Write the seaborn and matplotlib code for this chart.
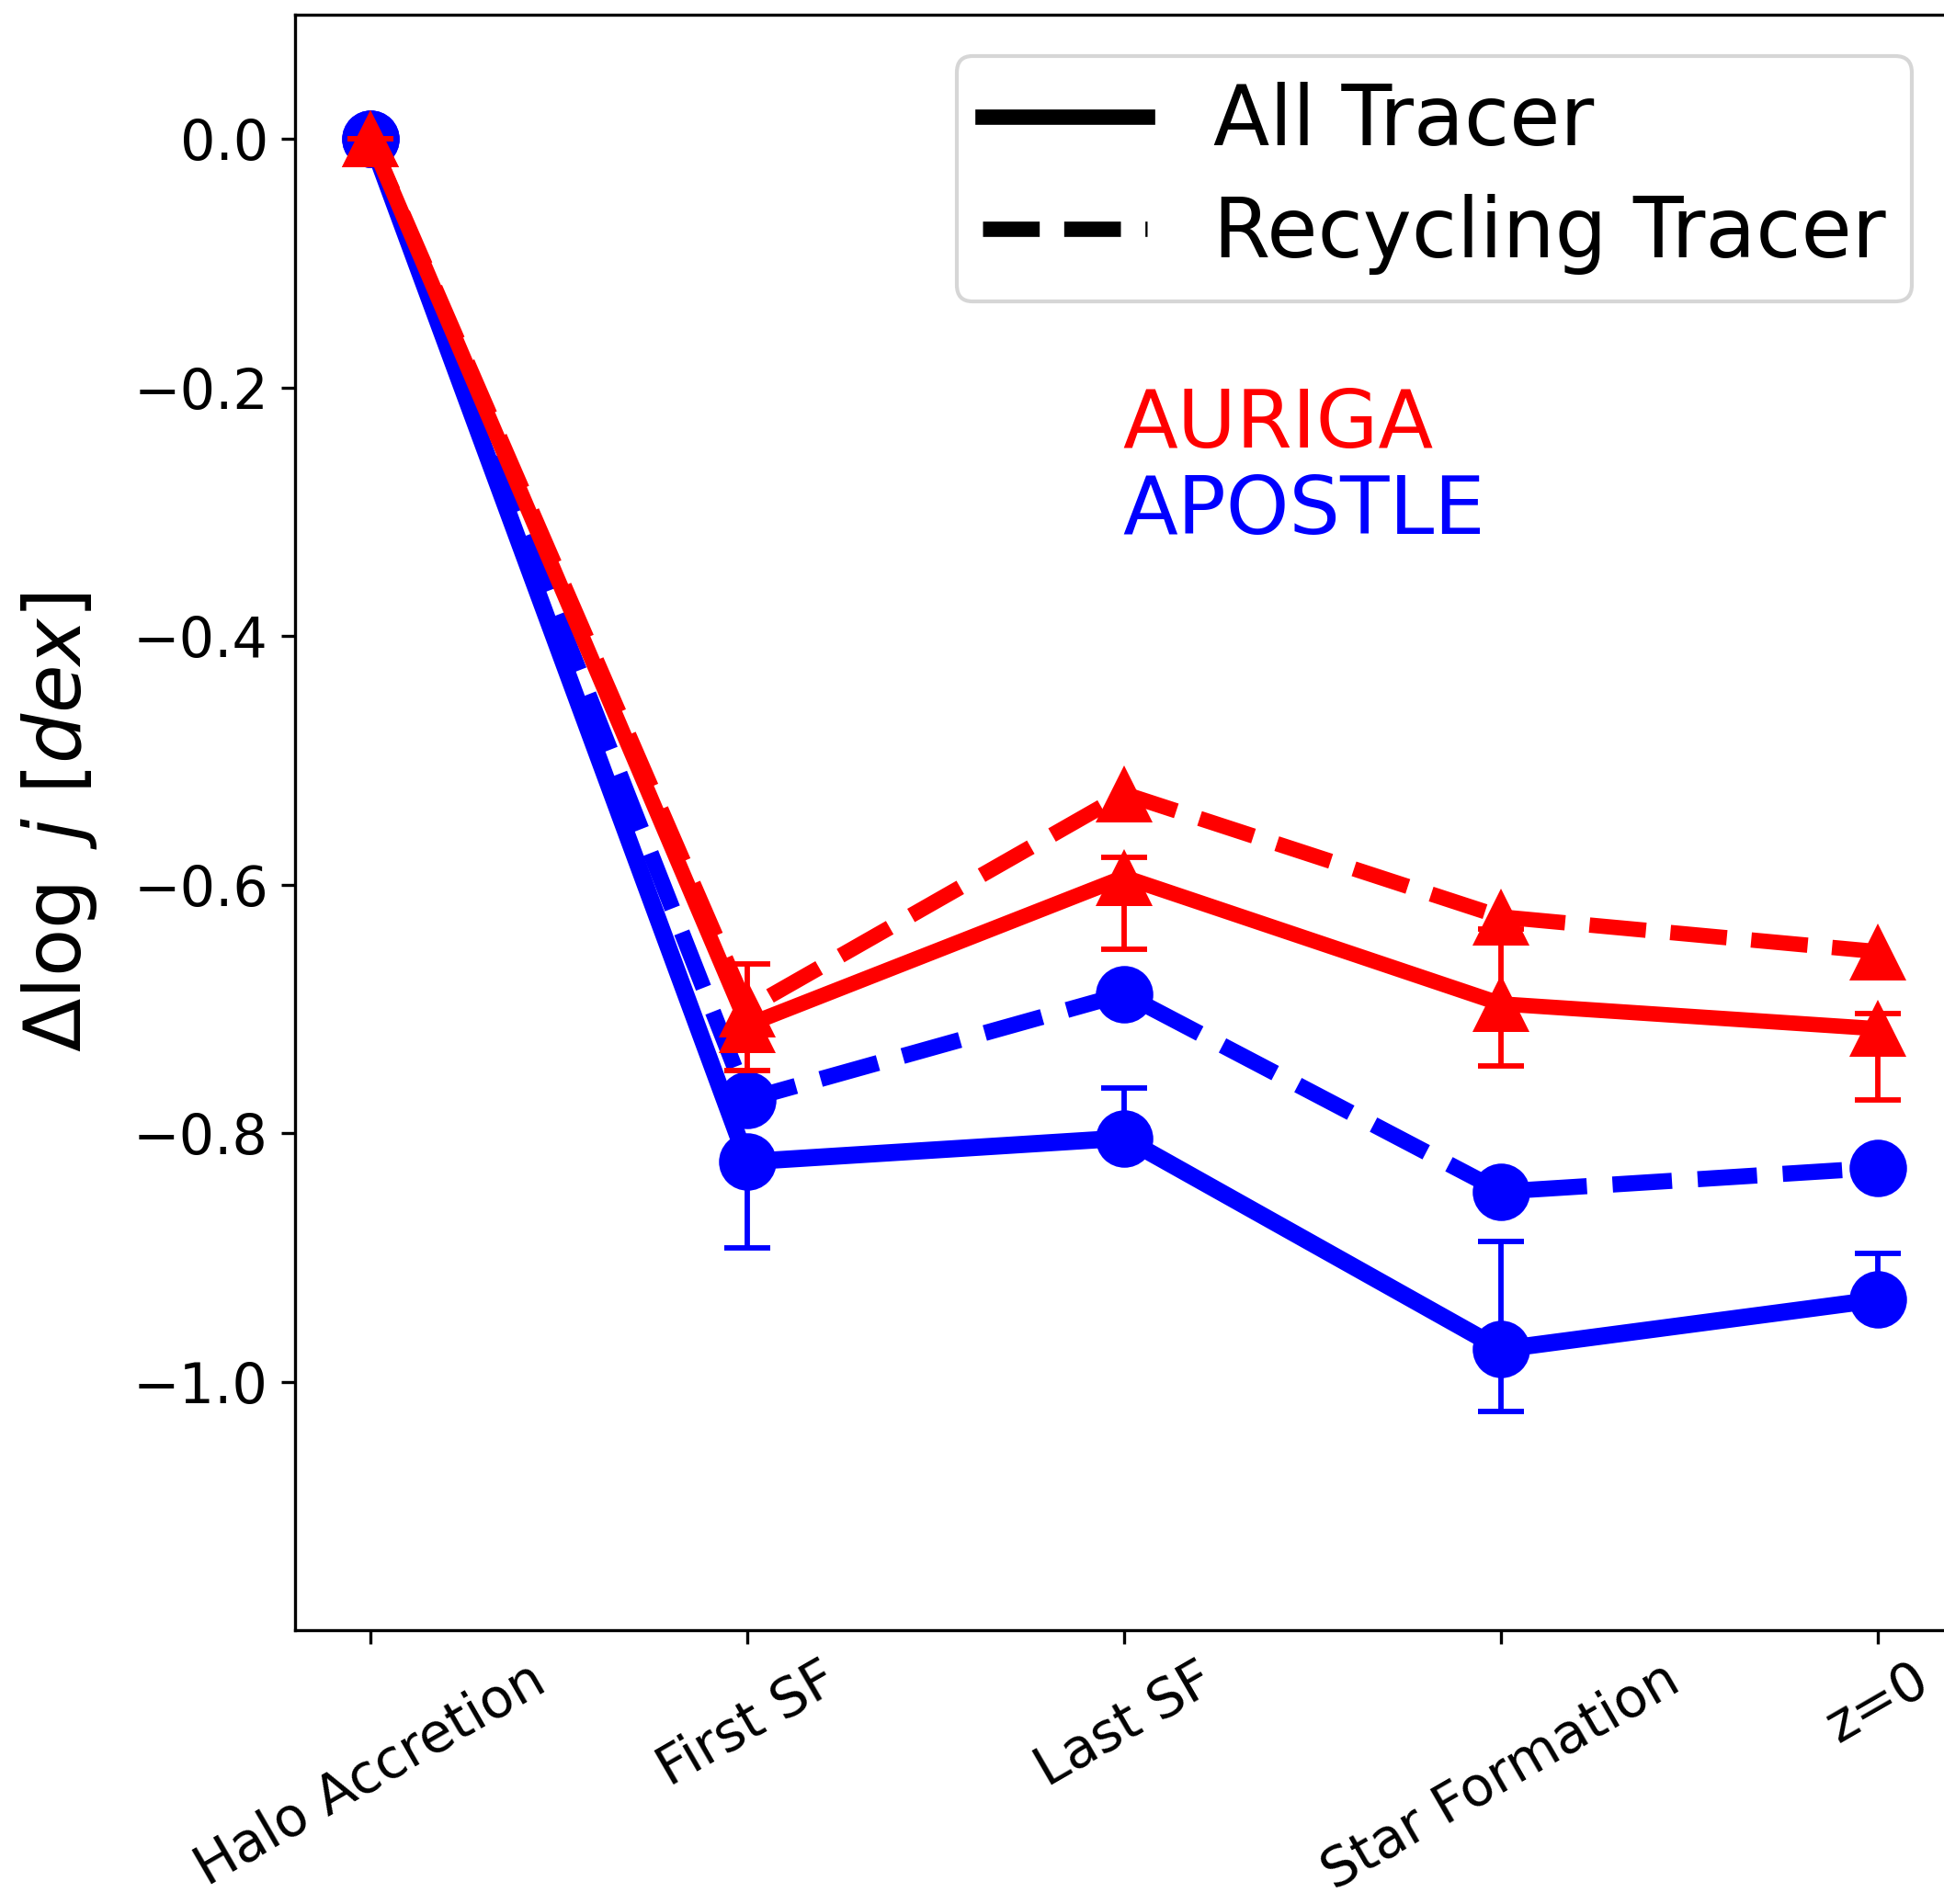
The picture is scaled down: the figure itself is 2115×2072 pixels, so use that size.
import numpy as np
import pandas as pd
import matplotlib
matplotlib.use("Agg")
import matplotlib.pyplot as plt
import seaborn as sns
from matplotlib.lines import Line2D

# ---- data ----
stages = ["Halo Accretion", "First SF", "Last SF", "Star Formation", "z=0"]

apostle_all = [0.0, -0.823, -0.804, -0.974, -0.934]
apostle_all_err_lo = [0.0, 0.069, 0.0, 0.050, 0.0]
apostle_all_err_hi = [0.0, 0.0, 0.040, 0.087, 0.037]
apostle_rec = [0.0, -0.773, -0.688, -0.847, -0.828]

auriga_all = [0.0, -0.713, -0.594, -0.696, -0.716]
auriga_all_err_lo = [0.0, 0.037, 0.058, 0.050, 0.057]
auriga_all_err_hi = [0.0, 0.049, 0.016, 0.060, 0.012]
auriga_rec = [0.0, -0.700, -0.527, -0.626, -0.654]

yticks = [0.0, -0.2, -0.4, -0.6, -0.8, -1.0]

# ---- figure ----
plt.rcParams["font.family"] = ["DejaVu Sans"]
fig = plt.figure(figsize=(2115 / 300, 2072 / 300), dpi=300)
ax = fig.add_axes([0.1518, 0.1438, 0.853, 0.8485])

xpos = np.arange(len(stages))


def series_df(vals):
    return pd.DataFrame({"x": xpos, "y": vals})


def draw(vals, color, marker, ls, lw, z):
    sns.lineplot(data=series_df(vals), x="x", y="y", color=color, marker=marker,
                 markersize=15, markeredgecolor=color, markeredgewidth=0,
                 linestyle=ls, linewidth=lw, ax=ax, zorder=z, legend=False)


# APOSTLE (blue)
ax.errorbar(xpos, apostle_all, yerr=[apostle_all_err_lo, apostle_all_err_hi],
            fmt="none", ecolor="blue", elinewidth=1.4, capsize=6, capthick=1.4, zorder=2)
draw(apostle_all, "blue", "o", "-", 4.5, 2.2)
draw(apostle_rec, "blue", "o", "--", 4.2, 2.3)

# AURIGA (red)
ax.errorbar(xpos, auriga_all, yerr=[auriga_all_err_lo, auriga_all_err_hi],
            fmt="none", ecolor="red", elinewidth=1.4, capsize=6, capthick=1.4, zorder=3)
draw(auriga_all, "red", "^", "-", 4.0, 3.2)
draw(auriga_rec, "red", "^", "--", 4.0, 3.3)

ax.set_xlim(-0.2, 4.2)
ax.set_ylim(-1.2, 0.1)
ax.set_xticks(xpos)
ax.set_xticklabels(stages, rotation=30, ha="center", fontsize=14.2)
ax.tick_params(axis="x", pad=2.5)
ax.set_yticks(yticks)
ax.set_yticklabels([f"{t:.1f}".replace("-", "\u2212") for t in yticks], fontsize=14.5)
ax.set_xlabel("")
ax.set_ylabel(r"$\Delta\log\ j\ [dex]$", fontsize=20.5)
ax.yaxis.set_label_coords(-0.118, 0.5)

ax.text(0.499, 0.746, "AURIGA", color="red", fontsize=21, transform=ax.transAxes,
        ha="left", va="center")
ax.text(0.499, 0.692, "APOSTLE", color="blue", fontsize=21, transform=ax.transAxes,
        ha="left", va="center")

handles = [Line2D([], [], color="black", lw=4, ls="-"),
           Line2D([], [], color="black", lw=4, ls="--")]
ax.legend(handles, ["All Tracer", "Recycling Tracer"], loc="upper right",
          fontsize=21.5, handlelength=2.0, labelspacing=0.38, borderpad=0.32)

fig.savefig("out.png", dpi=300)
